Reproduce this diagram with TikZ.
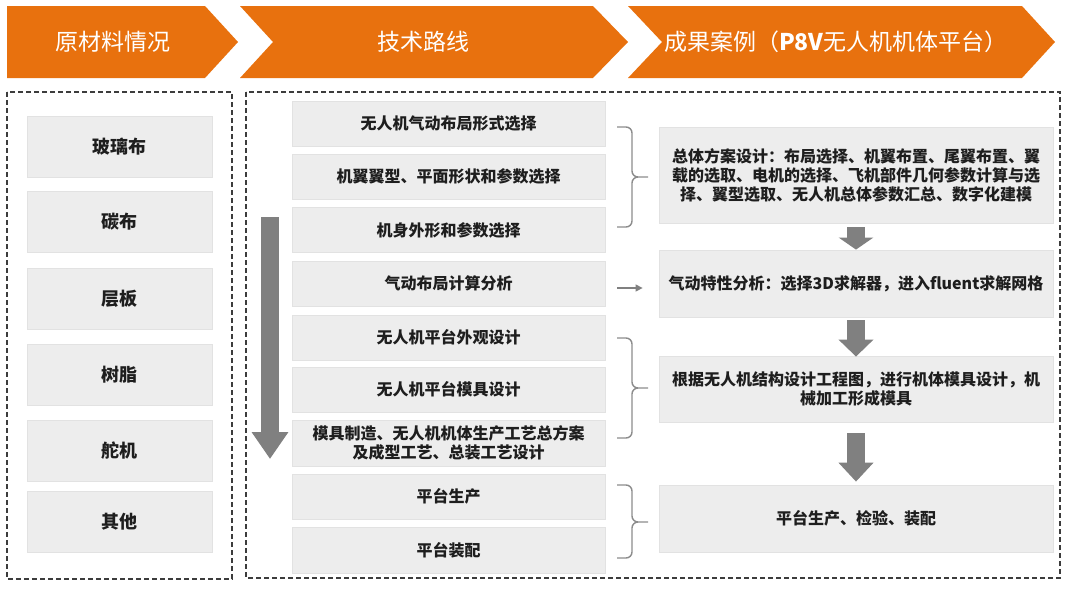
\documentclass[tikz,border=0pt]{standalone}
\usepackage{fontspec}
\setmainfont{Noto Sans CJK SC}
\newfontfamily\cjk{Noto Sans CJK SC}
\usetikzlibrary{arrows.meta,calc}
\definecolor{orangeh}{RGB}{232,113,14}
\definecolor{boxgray}{RGB}{237,237,237}
\definecolor{boxedge}{RGB}{226,226,226}
\definecolor{arrowgray}{RGB}{128,128,128}
\definecolor{bracegray}{RGB}{140,140,140}
\definecolor{dashgray}{RGB}{60,60,60}
\definecolor{txt}{RGB}{30,30,30}
\newcommand\mybrace[3]{%
  \draw[bracestyle] (617,#1) -- (626,#1) to[out=0,in=90] (632,#1+6) -- (632,#3-6)
    to[out=270,in=180] (638,#3) -- (648,#3);
  \draw[bracestyle] (638,#3) to[out=180,in=90] (632,#3+6) -- (632,#2-6)
    to[out=270,in=0] (626,#2) -- (617,#2);}
\begin{document}
\begin{tikzpicture}[x=1pt,y=-1pt,
  headshape/.style={fill=orangeh, draw=none},
  headtext/.style={text=white, font=\cjk\fontsize{23}{27}\selectfont, inner sep=0pt},
  gbox/.style={fill=boxgray, draw=boxedge, line width=0.8pt, text=txt, inner sep=0pt, align=center},
  lbox/.style={gbox, minimum width=185pt, minimum height=61pt, font=\cjk\bfseries\fontsize{18}{21}\selectfont},
  mbox/.style={gbox, minimum width=313pt, minimum height=45pt, font=\cjk\bfseries\fontsize{16}{19}\selectfont},
  rbox/.style={gbox, minimum width=394pt, font=\cjk\bfseries\fontsize{16}{19}\selectfont},
  dashbox/.style={draw=dashgray, line width=1.5pt, dash pattern=on 5pt off 3pt},
  fatarrow/.style={draw=arrowgray, line width=18pt, -{Triangle[width=34pt,length=#1]}},
  thinarrow/.style={draw=arrowgray, line width=1.3pt, -{Triangle[width=7pt,length=7pt]}},
  bracestyle/.style={draw=bracegray, line width=1.4pt}
]
\useasboundingbox (0,0) rectangle (1080,589);

% header chevrons
\fill[headshape] (7,6) -- (205,6) -- (238,42) -- (205,78) -- (7,78) -- cycle;
\fill[headshape] (240,6) -- (593,6) -- (628,42) -- (593,78) -- (240,78) -- (273,42) -- cycle;
\fill[headshape] (628,6) -- (1022,6) -- (1055,42) -- (1022,78) -- (628,78) -- (662,42) -- cycle;
\node[headtext] (h1) at (113,42) {原材料情况};
\node[headtext] (h2) at (423,42) {技术路线};
\node[headtext] (h3) at (836,42) {成果案例（\textbf{P8V}无人机机体平台）};

% dashed frames
\draw[dashbox] (7,92) rectangle (232,579);
\draw[dashbox] (246,92) rectangle (1060,578);

% left boxes
\node[lbox] (l1) at (119.5,146.5) {玻璃布};
\node[lbox] (l2) at (119.5,222) {碳布};
\node[lbox] (l3) at (119.5,299) {层板};
\node[lbox] (l4) at (119.5,374.5) {树脂};
\node[lbox] (l5) at (119.5,451) {舵机};
\node[lbox] (l6) at (119.5,521.5) {其他};

% middle boxes
\node[mbox] (m1) at (448.5,124) {无人机气动布局形式选择};
\node[mbox] (m2) at (448.5,176.5) {机翼翼型、平面形状和参数选择};
\node[mbox] (m3) at (448.5,230) {机身外形和参数选择};
\node[mbox] (m4) at (448.5,283.5) {气动布局计算分析};
\node[mbox] (m5) at (448.5,337.5) {无人机平台外观设计};
\node[mbox] (m6) at (448.5,389.5) {无人机平台模具设计};
\node[mbox, minimum height=46pt] (m7) at (448.5,443) {模具制造、无人机机体生产工艺总方案\\及成型工艺、总装工艺设计};
\node[mbox] (m8) at (448.5,496.5) {平台生产};
\node[mbox, minimum height=46pt] (m9) at (448.5,550) {平台装配};

% left flow arrow
\coordinate (la1) at (270,217);
\coordinate (la2) at (270,459);
\draw[draw=arrowgray, line width=18pt, -{Triangle[width=35pt,length=27pt]}] (la1) -- (la2);

% right boxes
\node[rbox, minimum height=96pt] (ra) at (856,175) {总体方案设计：布局选择、机翼布置、尾翼布置、翼\\载的选取、电机的选择、飞机部件几何参数计算与选\\择、翼型选取、无人机总体参数汇总、数字化建模};
\node[rbox, minimum height=67pt] (rb) at (856,283.5) {气动特性分析：选择3D求解器，进入fluent求解网格};
\node[rbox, minimum height=66pt] (rc) at (856,389) {根据无人机结构设计工程图，进行机体模具设计，机\\械加工形成模具};
\node[rbox, minimum height=67pt] (rd) at (856,518.5) {平台生产、检验、装配};

% fat arrows between right boxes
\draw[fatarrow=12pt] ([yshift=-4pt]ra.south) -- (rb.north);
\draw[fatarrow=17pt] ([yshift=-3pt]rb.south) -- ([yshift=-1pt]rc.north);
\draw[fatarrow=19pt] ([yshift=-11pt]rc.south) -- ([yshift=3pt]rd.north);

% thin arrow
\draw[thinarrow] ([xshift=12pt,yshift=-4.5pt]m4.east) -- ([xshift=-16pt,yshift=-4.5pt]rb.west);

% braces
\mybrace{127}{227}{177}
\mybrace{338}{438}{388}
\mybrace{485}{558}{522}
\end{tikzpicture}
\end{document}
